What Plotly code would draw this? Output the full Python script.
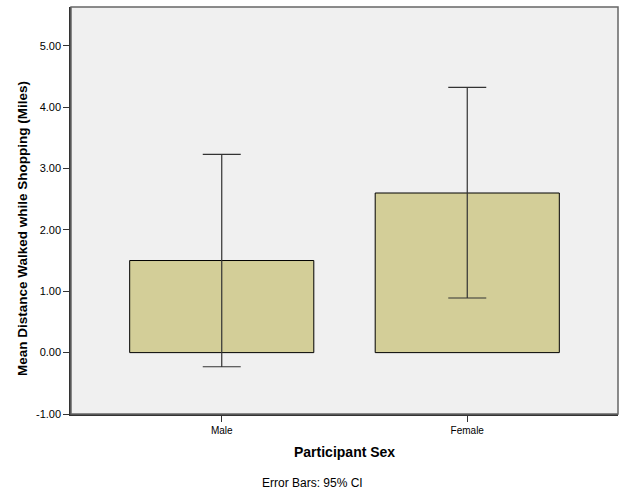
import plotly.graph_objects as go

categories = ["Male", "Female"]
means = [1.50, 2.60]
ci_upper = [3.23, 4.32]
ci_lower = [-0.23, 0.89]
y_ticks = [-1, 0, 1, 2, 3, 4, 5]
y_tick_labels = ["-1.00", "0.00", "1.00", "2.00", "3.00", "4.00", "5.00"]

err_plus = [u - m for u, m in zip(ci_upper, means)]
err_minus = [m - l for m, l in zip(means, ci_lower)]

fig = go.Figure()
fig.add_trace(go.Bar(
    x=categories, y=means, width=0.75,
    marker=dict(color="#d3ce98", line=dict(color="#000000", width=1)),
    error_y=dict(type="data", symmetric=False, array=err_plus, arrayminus=err_minus,
                 color="#333333", thickness=1.2, width=19),
    hoverinfo="skip",
))

fig.update_layout(
    width=625, height=500,
    margin=dict(l=71, r=7, t=7, b=86),
    paper_bgcolor="#ffffff", plot_bgcolor="#f0f0f0",
    showlegend=False,
    font=dict(family="Liberation Sans, Arial, sans-serif", color="#000000"),
    xaxis=dict(range=[-0.614, 1.614], showgrid=False, zeroline=False,
               showline=True, linecolor="#333333", linewidth=1.5,
               ticks="outside", ticklen=6, tickcolor="#333333",
               tickfont=dict(size=10)),
    yaxis=dict(range=[-1, 5.63], tickvals=y_ticks, ticktext=y_tick_labels,
               showgrid=False, zeroline=False,
               showline=True, linecolor="#333333", linewidth=1.5,
               ticks="outside", ticklen=6, tickcolor="#333333",
               tickfont=dict(size=11)),
    shapes=[dict(type="rect", xref="paper", yref="paper", x0=0, x1=1, y0=0, y1=1,
                 line=dict(color="#666666", width=1.5), layer="above")],
    annotations=[
        dict(text="<b>Mean Distance Walked while Shopping (Miles)</b>", textangle=-90,
             xref="paper", yref="paper", x=-0.0896, y=(414 - 228) / 407,
             xanchor="center", yanchor="middle", showarrow=False, font=dict(size=13.5)),
        dict(text="<b>Participant Sex</b>", xref="paper", yref="paper",
             x=0.5, y=(414 - 452.5) / 407, xanchor="center", yanchor="middle",
             showarrow=False, font=dict(size=14)),
        dict(text="Error Bars: 95% CI", xref="paper", yref="paper",
             x=(312.5 - 71) / 547, y=(414 - 483) / 407, xanchor="center", yanchor="middle",
             showarrow=False, font=dict(size=12)),
    ],
)

fig.write_html("out.html", config={"displayModeBar": False},
               post_script="document.body.style.margin='0';")
